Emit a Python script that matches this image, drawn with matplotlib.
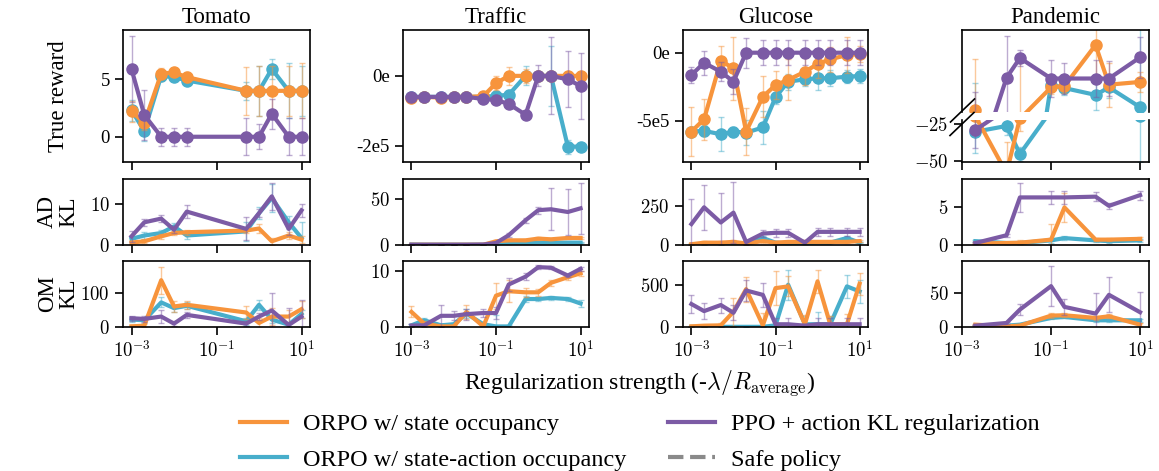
import numpy as np
import matplotlib
matplotlib.use("Agg")
import matplotlib.pyplot as plt
from matplotlib.lines import Line2D

plt.rcParams['font.family'] = ['Liberation Serif', 'DejaVu Serif']
plt.rcParams['mathtext.fontset'] = 'cm'

# colours
C_STATE = '#f7943c'
C_SA = '#48aecb'
C_PPO = '#7c5ba5'
C_SAFE = '#8a8a8a'

envs = ['Tomato', 'Traffic', 'Glucose', 'Pandemic']

# regularization strengths
x_tomato = [0.001, 0.002, 0.005, 0.01, 0.02, 0.5, 1, 2, 5, 10]
x_traffic = [0.001, 0.002, 0.005, 0.01, 0.02, 0.05, 0.1, 0.2, 0.5, 1, 2, 5, 10]
x_glucose = [0.001, 0.002, 0.005, 0.01, 0.02, 0.05, 0.1, 0.2, 0.5, 1, 2, 5, 10]
x_pandemic = [0.002, 0.01, 0.02, 0.1, 0.2, 1, 2, 10]

# ---- True reward ----
tomato_r_state = [2.2, 1.2, 5.5, 5.6, 5.2, 4.0, 4.0, 4.0, 4.0, 4.0]
tomato_r_state_err = [0.9, 0.6, 0.5, 0.3, 0.4, 2.1, 2.2, 2.2, 2.2, 2.4]
tomato_r_sa = [2.3, 0.5, 5.3, 5.2, 4.9, 4.0, 4.0, 5.9, 4.0, 4.0]
tomato_r_sa_err = [0.9, 0.9, 0.4, 0.3, 0.3, 0.8, 2.2, 0.9, 2.4, 2.2]
tomato_r_ppo = [5.9, 1.9, 0.0, 0.0, 0.0, 0.0, 0.0, 2.0, 0.0, 0.0]
tomato_r_ppo_err = [2.9, 2.2, 0.8, 0.8, 0.8, 1.6, 1.1, 1.3, 1.6, 1.6]

traffic_r_state = np.array([-0.62, -0.6, -0.62, -0.6, -0.6, -0.58, -0.21, 0.0, 0.0, 0.0, 0.0, 0.0, 0.0]) * 1e5
traffic_r_state_err = np.array([0.05, 0.05, 0.05, 0.05, 0.05, 0.05, 0.2, 0.25, 0.2, 0.1, 0.1, 0.1, 0.1]) * 1e5
traffic_r_sa = np.array([-0.6, -0.6, -0.6, -0.6, -0.6, -0.6, -0.57, -0.54, 0.0, 0.0, 0.0, -2.02, -2.02]) * 1e5
traffic_r_sa_err = np.array([0.05, 0.05, 0.05, 0.05, 0.05, 0.05, 0.1, 0.15, 0.27, 0.1, 0.85, 0.2, 0.1]) * 1e5
traffic_r_ppo = np.array([-0.6, -0.6, -0.6, -0.6, -0.6, -0.66, -0.69, -0.8, -1.11, 0.0, 0.0, -0.1, -0.29]) * 1e5
traffic_r_ppo_err = np.array([0.05, 0.05, 0.05, 0.05, 0.05, 0.05, 0.05, 0.05, 0.1, 0.3, 1.1, 0.8, 0.95]) * 1e5

glucose_r_state = np.array([-5.8, -4.9, -0.59, -1.15, -5.8, -3.24, -2.38, -2.0, -1.4, -0.83, -0.49, -0.17, -0.1]) * 1e5
glucose_r_state_err = np.array([1.8, 1.5, 1.1, 2.3, 1.7, 1.5, 1.0, 1.5, 1.0, 1.0, 0.9, 1.3, 0.6]) * 1e5
glucose_r_sa = np.array([-5.8, -5.75, -6.0, -5.8, -5.88, -5.5, -3.28, -2.13, -1.96, -1.88, -1.88, -1.76, -1.72]) * 1e5
glucose_r_sa_err = np.array([0.3, 0.4, 1.25, 0.3, 0.9, 1.2, 0.5, 0.6, 0.5, 0.9, 0.6, 0.5, 0.5]) * 1e5
glucose_r_ppo = np.array([-1.64, -0.74, -1.4, -2.13, 0, 0, 0, 0, 0, 0, 0, 0, 0]) * 1e5
glucose_r_ppo_err = np.array([0.6, 0.9, 0.7, 0.9, 1.1, 0.9, 0.9, 0.9, 0.9, 0.9, 0.9, 0.9, 0.9]) * 1e5

pandemic_r_state = [-19.7, -58, -21, -16.4, -16.2, -10.2, -16.0, -15.6]
pandemic_r_state_err = [7.4, 21, 8.6, 1.0, 1.0, 4.5, 3.2, 1.5]
pandemic_r_sa = [-30.2, -26.3, -45.1, -16.0, -16.5, -17.5, -16.4, -19.3]
pandemic_r_sa_err = [14.5, 6, 5, 1.0, 1.0, 2.2, 1.5, 31]
pandemic_r_ppo = [-29, -15.0, -12.1, -15.1, -15.1, -15.1, -15.1, -12.0]
pandemic_r_ppo_err = [12, 6.1, 1.2, 2.7, 2.3, 2.7, 2.5, 3.0]

# ---- Action distribution KL ----
tomato_ad_state = [0.6, 0.9, 2.1, 2.9, 3.1, 3.5, 4.0, 0.9, 2.3, 1.3]
tomato_ad_state_err = [0.4, 0.5, 0.6, 0.5, 0.6, 0.6, 1.0, 0.8, 0.8, 0.8]
tomato_ad_sa = [1.5, 2.3, 2.9, 4.5, 2.3, 3.3, 7.7, 11.4, 5.5, 1.7]
tomato_ad_sa_err = [0.8, 0.8, 0.8, 0.8, 0.8, 2.3, 1.5, 3.3, 1.5, 3.8]
tomato_ad_ppo = [2.1, 5.5, 6.4, 3.7, 8.1, 3.9, 7.7, 11.8, 3.9, 8.4]
tomato_ad_ppo_err = [1.3, 0.9, 0.9, 0.9, 1.6, 2.8, 1.0, 3.2, 1.5, 1.6]

traffic_ad_state = [0.3, 0.3, 0.3, 0.3, 0.3, 0.3, 4.0, 5.1, 5.1, 7.0, 6.2, 7.7, 7.7]
traffic_ad_state_err = [0.2, 0.2, 0.2, 0.2, 0.2, 0.2, 1, 1, 1, 1.2, 1, 1.5, 1.5]
traffic_ad_sa = [0.5, 0.3, 0.3, 0.3, 0.3, 0.3, 1.0, 1.5, 2.0, 2.6, 2.6, 2.6, 2.6]
traffic_ad_sa_err = [0.3, 0.2, 0.2, 0.2, 0.2, 0.2, 0.5, 0.5, 0.5, 0.5, 0.5, 0.5, 0.5]
traffic_ad_ppo = [0.3, 0.3, 0.3, 0.3, 0.3, 0.5, 2.2, 10.7, 27, 38, 39, 36, 40]
traffic_ad_ppo_err = [0.2, 0.2, 0.2, 0.2, 0.2, 0.3, 1, 2, 3, 4, 23, 25, 28]

glucose_ad_state = [5, 15, 15, 20, 10, 25, 15, 20, 20, 20, 20, 20, 25]
glucose_ad_state_err = [5, 8, 8, 10, 8, 10, 8, 8, 8, 8, 8, 8, 8]
glucose_ad_sa = [2, 5, 8, 10, 8, 45, 15, 10, 12, 15, 15, 45, 15]
glucose_ad_sa_err = [3, 5, 5, 5, 5, 15, 8, 5, 5, 5, 5, 15, 5]
glucose_ad_ppo = [134, 241, 144, 207, 19, 73, 78, 78, 15, 84, 84, 84, 84]
glucose_ad_ppo_err = [160, 145, 190, 195, 10, 25, 25, 25, 20, 25, 25, 25, 25]

pandemic_ad_state = [0.2, 0.26, 0.3, 0.7, 4.9, 0.7, 0.7, 0.8]
pandemic_ad_state_err = [0.1, 0.1, 0.4, 2.1, 1.9, 0.2, 0.2, 0.2]
pandemic_ad_sa = [0.5, 0.26, 0.26, 0.6, 0.9, 0.6, 0.5, 0.6]
pandemic_ad_sa_err = [0.1, 0.1, 0.1, 0.3, 0.3, 0.2, 0.2, 0.2]
pandemic_ad_ppo = [0.26, 1.27, 6.2, 6.2, 6.2, 6.3, 5.1, 6.5]
pandemic_ad_ppo_err = [0.1, 0.2, 1.9, 0.9, 0.8, 0.6, 0.4, 0.6]

# ---- Occupancy measure KL ----
tomato_om_state = [2, 4, 139, 61, 66, 43, 12, 31, 31, 53]
tomato_om_state_err = [5, 5, 40, 15, 12, 20, 15, 25, 20, 25]
tomato_om_sa = [22, 20, 73, 56, 63, 17, 66, 22, 7, 39]
tomato_om_sa_err = [8, 8, 15, 10, 10, 10, 15, 10, 8, 12]
tomato_om_ppo = [26, 24, 31, 10, 36, 10, 31, 49, 6, 31]
tomato_om_ppo_err = [8, 8, 20, 8, 10, 8, 10, 52, 50, 50]

traffic_om_state = [2.7, 0.6, 0.1, 0.1, 2.7, 0.1, 5.6, 6.4, 6.2, 6.2, 7.9, 8.9, 9.6]
traffic_om_state_err = [1.0, 0.5, 0.3, 0.3, 1.2, 0.3, 2.3, 2.0, 0.8, 0.6, 0.5, 0.5, 0.5]
traffic_om_sa = [0.3, 1.2, 0.3, 0.5, 2.4, 0.5, 0.1, 0.1, 5.0, 5.0, 5.2, 5.0, 4.2]
traffic_om_sa_err = [0.3, 0.4, 0.3, 0.3, 0.8, 0.3, 2.0, 0.3, 0.6, 0.3, 0.3, 0.3, 0.6]
traffic_om_ppo = [0.25, 0.3, 2.0, 2.0, 2.3, 2.5, 2.5, 7.6, 9.0, 10.7, 10.6, 9.2, 10.4]
traffic_om_ppo_err = [0.3, 0.3, 2.0, 0.8, 1.0, 0.8, 1.0, 1.2, 0.6, 0.3, 0.3, 0.3, 0.4]

glucose_om_state = [8, 16, 20, 183, 455, 20, 467, 488, 33, 549, 33, 33, 520]
glucose_om_state_err = [5, 10, 30, 170, 150, 150, 200, 120, 110, 140, 100, 120, 130]
glucose_om_sa = [2, 2, 2, 2, 2, 2, 20, 508, 33, 33, 33, 488, 427]
glucose_om_sa_err = [2, 2, 2, 2, 2, 2, 20, 180, 100, 150, 100, 140, 140]
glucose_om_ppo = [276, 191, 264, 171, 439, 386, 33, 33, 16, 33, 33, 33, 33]
glucose_om_ppo_err = [110, 100, 90, 90, 130, 140, 80, 80, 20, 80, 80, 80, 80]

pandemic_om_state = [3.5, 1, 2, 17, 17.5, 13.5, 16, 3.5]
pandemic_om_state_err = [1, 1, 2, 4, 3, 3, 3, 2]
pandemic_om_sa = [2, 2, 3.5, 13.5, 15, 10, 10, 10]
pandemic_om_sa_err = [1, 1, 1, 2, 2, 2, 2, 2]
pandemic_om_ppo = [2, 6, 26, 61, 30, 20, 48, 22]
pandemic_om_ppo_err = [1, 2, 8, 30, 12, 30, 26, 30]

# tick labels
reward_ticks = {'Tomato': ([0, 5], ['0', '5']),
                'Traffic': ([-2e5, 0], ['-2e5', '0e']),
                'Glucose': ([-5e5, 0], ['-5e5', '0e']),
                'Pandemic': ([-50, -25], ['$-50$', '$-25$'])}
ad_ticks = {'Tomato': [0, 10], 'Traffic': [0, 50], 'Glucose': [0, 250], 'Pandemic': [0, 5]}
om_ticks = {'Tomato': [0, 100], 'Traffic': [0, 10], 'Glucose': [0, 500], 'Pandemic': [0, 50]}
x_ticks = [1e-3, 1e-1, 1e1]
x_ticklabels = ['$10^{-3}$', '$10^{-1}$', '$10^{1}$']

xs = {'Tomato': x_tomato, 'Traffic': x_traffic, 'Glucose': x_glucose, 'Pandemic': x_pandemic}
reward = {
    'Tomato': [(tomato_r_sa, tomato_r_sa_err, C_SA), (tomato_r_state, tomato_r_state_err, C_STATE), (tomato_r_ppo, tomato_r_ppo_err, C_PPO)],
    'Traffic': [(traffic_r_sa, traffic_r_sa_err, C_SA), (traffic_r_state, traffic_r_state_err, C_STATE), (traffic_r_ppo, traffic_r_ppo_err, C_PPO)],
    'Glucose': [(glucose_r_sa, glucose_r_sa_err, C_SA), (glucose_r_state, glucose_r_state_err, C_STATE), (glucose_r_ppo, glucose_r_ppo_err, C_PPO)],
    'Pandemic': [(pandemic_r_sa, pandemic_r_sa_err, C_SA), (pandemic_r_state, pandemic_r_state_err, C_STATE), (pandemic_r_ppo, pandemic_r_ppo_err, C_PPO)],
}
ad_kl = {
    'Tomato': [(tomato_ad_sa, tomato_ad_sa_err, C_SA), (tomato_ad_state, tomato_ad_state_err, C_STATE), (tomato_ad_ppo, tomato_ad_ppo_err, C_PPO)],
    'Traffic': [(traffic_ad_sa, traffic_ad_sa_err, C_SA), (traffic_ad_state, traffic_ad_state_err, C_STATE), (traffic_ad_ppo, traffic_ad_ppo_err, C_PPO)],
    'Glucose': [(glucose_ad_sa, glucose_ad_sa_err, C_SA), (glucose_ad_state, glucose_ad_state_err, C_STATE), (glucose_ad_ppo, glucose_ad_ppo_err, C_PPO)],
    'Pandemic': [(pandemic_ad_sa, pandemic_ad_sa_err, C_SA), (pandemic_ad_state, pandemic_ad_state_err, C_STATE), (pandemic_ad_ppo, pandemic_ad_ppo_err, C_PPO)],
}
om_kl = {
    'Tomato': [(tomato_om_sa, tomato_om_sa_err, C_SA), (tomato_om_state, tomato_om_state_err, C_STATE), (tomato_om_ppo, tomato_om_ppo_err, C_PPO)],
    'Traffic': [(traffic_om_sa, traffic_om_sa_err, C_SA), (traffic_om_state, traffic_om_state_err, C_STATE), (traffic_om_ppo, traffic_om_ppo_err, C_PPO)],
    'Glucose': [(glucose_om_sa, glucose_om_sa_err, C_SA), (glucose_om_state, glucose_om_state_err, C_STATE), (glucose_om_ppo, glucose_om_ppo_err, C_PPO)],
    'Pandemic': [(pandemic_om_sa, pandemic_om_sa_err, C_SA), (pandemic_om_state, pandemic_om_state_err, C_STATE), (pandemic_om_ppo, pandemic_om_ppo_err, C_PPO)],
}

reward_ylim = {'Tomato': (-2.2, 9.3), 'Traffic': (-2.46e5, 1.31e5), 'Glucose': (-8.04e5, 1.67e5)}
pandemic_upper_ylim = (-20, -8)
pandemic_lower_ylim = (-50.5, -22.3)
ad_ylim = {'Tomato': 16, 'Traffic': 72, 'Glucose': 422, 'Pandemic': 8.6}
om_ylim = {'Tomato': 196, 'Traffic': 11.8, 'Glucose': 793, 'Pandemic': 98.5}

# layout in pixels
W, H = 1159, 471
fig = plt.figure(figsize=(W / 100, H / 100), dpi=100)


def box(l, t, r, b):
    return fig.add_axes([l / W, 1 - b / H, (r - l) / W, (b - t) / H])


cols = {'Tomato': (123, 310), 'Traffic': (403, 589), 'Glucose': (683, 868), 'Pandemic': (962, 1149)}
TICK = 13.5
LABEL = 16.5


def style(ax, xlim):
    ax.set_xscale('log')
    ax.set_xlim(*xlim)
    ax.set_xticks(x_ticks)
    ax.xaxis.set_minor_locator(matplotlib.ticker.NullLocator())
    ax.tick_params(direction='out', length=6, width=1.2, labelsize=TICK)
    for s in ax.spines.values():
        s.set_linewidth(1.2)


def draw(ax, x, series, marker):
    for y, e, c in series:
        ax.errorbar(x, y, yerr=e, fmt='none', ecolor=c, elinewidth=1, capsize=2.5,
                    capthick=1, alpha=0.5)
        if marker:
            ax.plot(x, y, '-o', color=c, lw=3, ms=8)
        else:
            ax.plot(x, y, '-', color=c, lw=3)


for env in envs:
    l, r = cols[env]
    x = xs[env]
    xlim = (10 ** -3.0, 10 ** 1.2) if env == 'Pandemic' else (10 ** -3.2, 10 ** 1.2)

    if env != 'Pandemic':
        ax = box(l, 30, r, 162)
        draw(ax, x, reward[env], True)
        style(ax, xlim)
        ax.set_ylim(*reward_ylim[env])
        ax.set_yticks(reward_ticks[env][0])
        ax.set_yticklabels(reward_ticks[env][1])
        ax.set_xticklabels([])
        ax.set_title(env, fontsize=LABEL, pad=5)
    else:
        # broken y axis
        ax_up = box(l, 30, r, 112)
        ax_lo = box(l, 120, r, 162)
        for a in (ax_up, ax_lo):
            draw(a, x, reward[env], True)
            style(a, xlim)
        ax_up.set_ylim(*pandemic_upper_ylim)
        ax_lo.set_ylim(*pandemic_lower_ylim)
        ax_up.spines['bottom'].set_visible(False)
        ax_lo.spines['top'].set_visible(False)
        ax_up.tick_params(bottom=False, labelbottom=False, left=False, labelleft=False)
        ax_lo.set_yticks(reward_ticks[env][0])
        ax_lo.set_yticklabels(reward_ticks[env][1])
        ax_lo.set_xticklabels([])
        ax_up.set_title(env, fontsize=LABEL, pad=5)
        for cx, cy in [(962.5, 110.5), (962, 124)]:
            fig.add_artist(Line2D([(cx - 12) / W, (cx + 12) / W],
                                  [1 - (cy + 11.5) / H, 1 - (cy - 11.5) / H],
                                  color='black', lw=1.2))

    ax = box(l, 179, r, 245)
    draw(ax, x, ad_kl[env], False)
    style(ax, xlim)
    ax.set_ylim(0, ad_ylim[env])
    ax.set_yticks(ad_ticks[env])
    ax.set_yticklabels(['$%g$' % t for t in ad_ticks[env]])
    ax.set_xticklabels([])

    ax = box(l, 261, r, 327)
    draw(ax, x, om_kl[env], False)
    style(ax, xlim)
    ax.set_ylim(0, om_ylim[env])
    ax.set_yticks(om_ticks[env])
    ax.set_yticklabels(['$%g$' % t for t in om_ticks[env]])
    ax.set_xticklabels(x_ticklabels)

fig.text(58 / W, 1 - 96 / H, 'True reward', rotation=90, ha='center', va='center', fontsize=LABEL)
fig.text(58 / W, 1 - 212 / H, 'AD\nKL', rotation=90, ha='center', va='center', fontsize=LABEL,
         linespacing=1.0)
fig.text(58 / W, 1 - 294 / H, 'OM\nKL', rotation=90, ha='center', va='center', fontsize=LABEL,
         linespacing=1.0)
fig.text(640 / W, 1 - 383 / H, r'Regularization strength (-$\lambda/R_{\mathrm{average}}$)',
         ha='center', va='center', fontsize=17)

handles = [Line2D([], [], color=C_STATE, lw=3),
           Line2D([], [], color=C_SA, lw=3),
           Line2D([], [], color=C_PPO, lw=3),
           Line2D([], [], color=C_SAFE, lw=3, ls='--')]
labels = ['ORPO w/ state occupancy', 'ORPO w/ state-action occupancy',
          'PPO + action KL regularization', 'Safe policy']
fig.legend(handles, labels, ncol=2, loc='upper center', bbox_to_anchor=(640 / W, 1 - 413 / H),
           frameon=False, fontsize=17.5, handlelength=1.93, handletextpad=0.66,
           columnspacing=1.73, labelspacing=0.56, borderaxespad=0, borderpad=0)

fig.savefig('out.png', dpi=100)
